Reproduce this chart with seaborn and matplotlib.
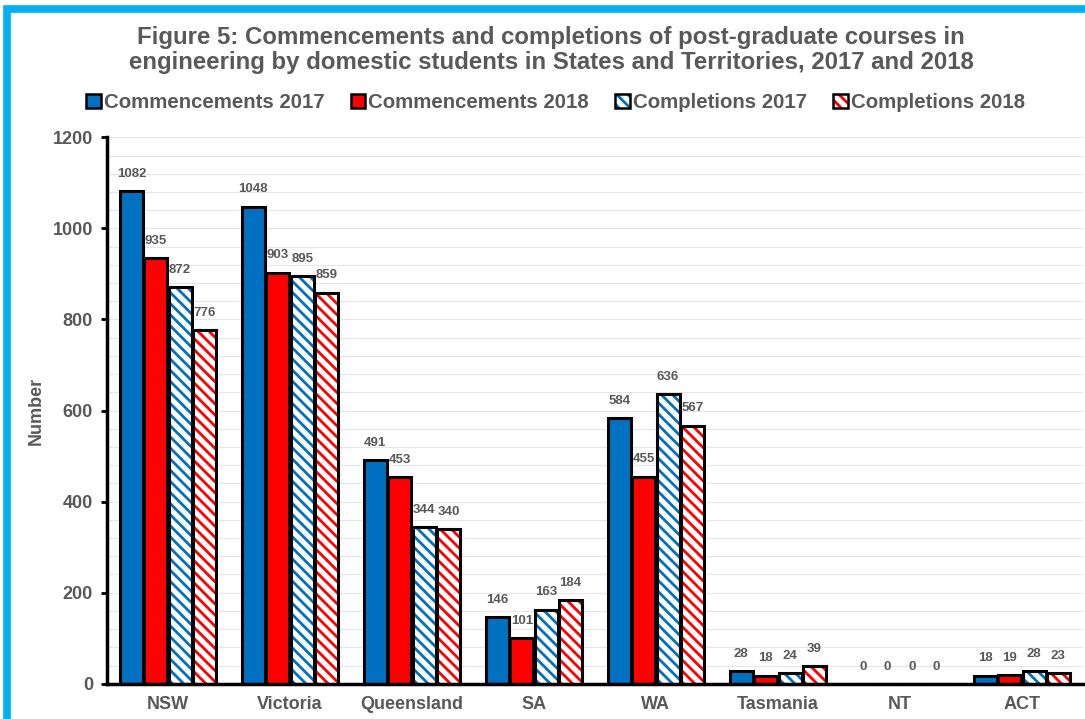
import matplotlib
matplotlib.use('Agg')
import matplotlib.pyplot as plt
import matplotlib.patches as mpatches
from matplotlib.ticker import MultipleLocator
import pandas as pd
import seaborn as sns

states = ['NSW', 'Victoria', 'Queensland', 'SA', 'WA', 'Tasmania', 'NT', 'ACT']
series = ['Commencements 2017', 'Commencements 2018', 'Completions 2017', 'Completions 2018']
comm_2017 = [1082, 1048, 491, 146, 584, 28, 0, 18]
comm_2018 = [935, 903, 453, 101, 455, 18, 0, 19]
comp_2017 = [872, 895, 344, 163, 636, 24, 0, 28]
comp_2018 = [776, 859, 340, 184, 567, 39, 0, 23]

BLUE = '#0070C0'
RED = '#FF0000'
GREY = '#595959'
colors = [BLUE, RED, BLUE, RED]
hatched = [False, False, True, True]

df = pd.DataFrame({
    'state': states * 4,
    'series': [s for s in series for _ in states],
    'value': comm_2017 + comm_2018 + comp_2017 + comp_2018,
})

sns.set_style('white')
plt.rcParams['font.family'] = ['Liberation Sans', 'DejaVu Sans']
plt.rcParams['hatch.linewidth'] = 2.0

fig = plt.figure(figsize=(10.85, 7.19), dpi=100)
ax = fig.add_axes([0.0986, 0.049, 0.8994, 0.76])

sns.barplot(data=df, x='state', y='value', hue='series', order=states,
            hue_order=series, palette=colors, width=0.8, gap=0.06,
            legend=False, ax=ax)

# solid bars get a black edge; hatched bars get a coloured hatch on white
# plus a black outline drawn on top
for cont, col, hat in zip(ax.containers, colors, hatched):
    for p in cont:
        if hat:
            p.set_facecolor('white')
            p.set_edgecolor(col)
            p.set_hatch('\\\\\\')
            p.set_linewidth(0)
            outline = mpatches.Rectangle(p.get_xy(), p.get_width(), p.get_height(),
                                         fill=False, edgecolor='black', lw=2.2,
                                         zorder=p.get_zorder() + 0.1)
            ax.add_patch(outline)
        else:
            p.set_facecolor(col)
            p.set_edgecolor('black')
            p.set_linewidth(2.2)
    ax.bar_label(cont, fmt='%d', padding=8, fontsize=9.5, fontweight='bold', color=GREY)

ax.set_xlim(-0.5, 7.5)
ax.set_ylim(0, 1200)
ax.yaxis.set_major_locator(MultipleLocator(200))
ax.yaxis.set_minor_locator(MultipleLocator(40))
ax.grid(which='both', axis='y', color='#E6E6E6', lw=0.8)
ax.set_axisbelow(True)
ax.tick_params(axis='y', which='major', direction='out', length=4, width=2,
               color='black', left=True, labelsize=13, labelcolor=GREY, pad=6)
ax.tick_params(axis='y', which='minor', length=0)
ax.tick_params(axis='x', length=0, labelsize=13, labelcolor=GREY, pad=9)
for lab in ax.get_xticklabels() + ax.get_yticklabels():
    lab.set_fontweight('bold')

for side in ['top', 'right']:
    ax.spines[side].set_visible(False)
for side in ['left', 'bottom']:
    ax.spines[side].set_color('black')
    ax.spines[side].set_linewidth(2.5)

ax.set_xlabel('')
ax.set_ylabel('Number', fontsize=13, fontweight='bold', color=GREY, labelpad=14)
ax.yaxis.set_label_coords(-0.064, 0.5)

fig.text(0.508, 0.93,
         'Figure 5: Commencements and completions of post-graduate courses in\n'
         'engineering by domestic students in States and Territories, 2017 and 2018',
         ha='center', va='center', fontsize=17.3, fontweight='bold', color=GREY,
         linespacing=1.1)

handles = []
for col, hat in zip(colors, hatched):
    if hat:
        h = (mpatches.Patch(facecolor='white', edgecolor=col, hatch='\\\\\\', lw=0),
             mpatches.Patch(fill=False, edgecolor='black', lw=1.8))
    else:
        h = mpatches.Patch(facecolor=col, edgecolor='black', lw=1.8)
    handles.append(h)
leg = fig.legend(handles, series, loc='center', bbox_to_anchor=(0.512, 0.857), ncol=4,
                 frameon=False, handlelength=0.7, handleheight=0.7, handletextpad=0.15,
                 columnspacing=1.3, prop={'size': 14.7, 'weight': 'bold'})
for t in leg.get_texts():
    t.set_color(GREY)

# light blue frame around the figure (right and bottom edges are cut off)
frame = mpatches.Rectangle((0.0065, -0.2), 1.2, 0.2 + 0.987, transform=fig.transFigure,
                           fill=False, edgecolor='#00B0F0', lw=5.5)
fig.patches.append(frame)

fig.savefig('out.png', dpi=100)
